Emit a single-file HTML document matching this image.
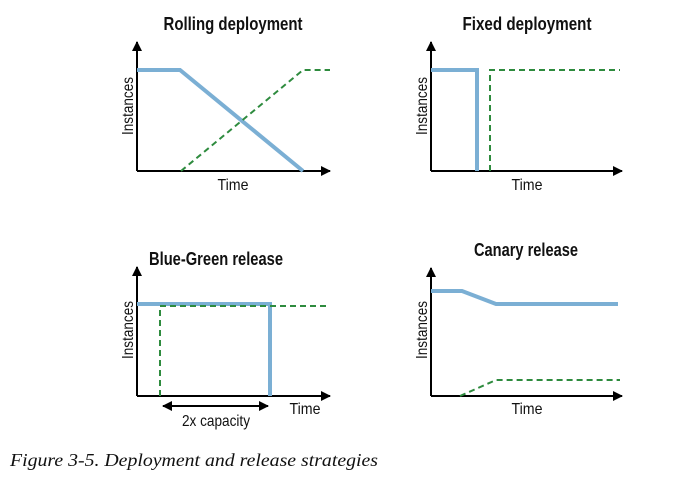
<!DOCTYPE html>
<html><head><meta charset="utf-8"><style>
html,body{margin:0;padding:0;background:#fff;width:697px;height:477px;overflow:hidden}
</style></head><body>
<svg width="697" height="477" viewBox="0 0 697 477" xmlns="http://www.w3.org/2000/svg">
<defs>
<marker id="ar" markerWidth="10" markerHeight="10" refX="9" refY="5" orient="auto" markerUnits="userSpaceOnUse"><path d="M0,0 L10,5 L0,10 z" fill="#000"/></marker>
</defs>
<g font-family="Liberation Sans, sans-serif" fill="#111">
<text x="233" y="30" font-size="18" font-weight="bold" text-anchor="middle" textLength="139" lengthAdjust="spacingAndGlyphs">Rolling deployment</text>
<text x="527" y="30" font-size="18" font-weight="bold" text-anchor="middle" textLength="129" lengthAdjust="spacingAndGlyphs">Fixed deployment</text>
<text x="216" y="265" font-size="18" font-weight="bold" text-anchor="middle" textLength="134" lengthAdjust="spacingAndGlyphs">Blue-Green release</text>
<text x="526" y="256" font-size="18" font-weight="bold" text-anchor="middle" textLength="104" lengthAdjust="spacingAndGlyphs">Canary release</text>
</g>
<g font-family="Liberation Sans, sans-serif" font-size="16" fill="#111">
<text x="233" y="190" text-anchor="middle" textLength="31" lengthAdjust="spacingAndGlyphs">Time</text>
<text x="527" y="190" text-anchor="middle" textLength="31" lengthAdjust="spacingAndGlyphs">Time</text>
<text x="305" y="414" text-anchor="middle" textLength="31" lengthAdjust="spacingAndGlyphs">Time</text>
<text x="527" y="414" text-anchor="middle" textLength="31" lengthAdjust="spacingAndGlyphs">Time</text>
<text x="216" y="426" text-anchor="middle" textLength="68" lengthAdjust="spacingAndGlyphs">2x capacity</text>
<text transform="translate(133,106) rotate(-90)" text-anchor="middle" textLength="58" lengthAdjust="spacingAndGlyphs">Instances</text>
<text transform="translate(427,106) rotate(-90)" text-anchor="middle" textLength="58" lengthAdjust="spacingAndGlyphs">Instances</text>
<text transform="translate(133,330) rotate(-90)" text-anchor="middle" textLength="58" lengthAdjust="spacingAndGlyphs">Instances</text>
<text transform="translate(427,330) rotate(-90)" text-anchor="middle" textLength="58" lengthAdjust="spacingAndGlyphs">Instances</text>
</g>
<g stroke="#000" stroke-width="2" fill="none">
<path d="M137,171 V42" marker-end="url(#ar)"/><path d="M137,171 H330" marker-end="url(#ar)"/>
<path d="M431,171 V42" marker-end="url(#ar)"/><path d="M431,171 H622" marker-end="url(#ar)"/>
<path d="M137,396 V267" marker-end="url(#ar)"/><path d="M137,396 H330" marker-end="url(#ar)"/>
<path d="M431,396 V268" marker-end="url(#ar)"/><path d="M431,396 H622" marker-end="url(#ar)"/>
<path d="M165,406 H268" marker-end="url(#ar)"/><path d="M268,406 H163" marker-end="url(#ar)"/>
</g>
<g stroke="#7bafd4" stroke-width="4" fill="none">
<path d="M137,70 H180 L303,171"/>
<path d="M431,70 H477 V171"/>
<path d="M137,304 H270 V396"/>
<path d="M431,291 H462 L496,304 H618"/>
</g>
<g stroke="#2e8b3e" stroke-width="2" fill="none" stroke-dasharray="6,4">
<path d="M181,171 L303,70 H330"/>
<path d="M490,171 V70 H620"/>
<path d="M160,396 V306 H326"/>
<path d="M460,396 L496,380 H620"/>
</g>
<text x="10" y="466" font-family="Liberation Serif, serif" font-style="italic" font-size="18" fill="#111" textLength="368" lengthAdjust="spacingAndGlyphs">Figure 3-5. Deployment and release strategies</text>
</svg>
</body></html>
